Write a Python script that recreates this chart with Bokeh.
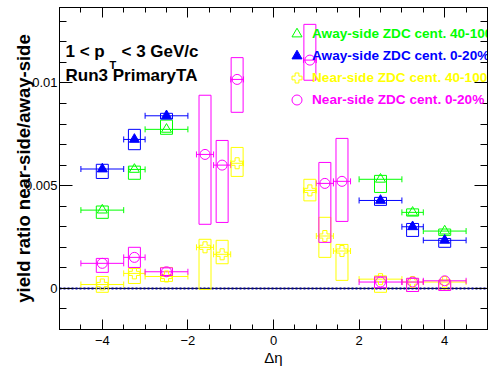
import math
from bokeh.plotting import figure
from bokeh.models import (ColumnDataSource, Whisker, TeeHead, Span, Label, Legend, LegendItem,
                          LinearAxis, SingleIntervalTicker, CustomJSTickFormatter, Range1d,
                          CustomLabelingPolicy)
from bokeh.embed import file_html
from bokeh.resources import INLINE

# ---------------- data ----------------
# Away-side ZDC cent. 40-100 (green, open triangle)
away_per_x = [-4.0, -3.25, -2.5, 2.5, 3.25, 4.0]
away_per_xlo = [-4.5, -3.38, -3.0, 2.0, 3.0, 3.5]
away_per_xhi = [-3.5, -3.0, -2.0, 3.0, 3.5, 4.5]
away_per_y = [0.00381, 0.00579, 0.00774, 0.00531, 0.00370, 0.00279]
away_per_sys_lo = [0.00341, 0.00531, 0.00750, 0.00467, 0.00352, 0.00258]
away_per_sys_hi = [0.00401, 0.00595, 0.00819, 0.00550, 0.00387, 0.00289]

# Away-side ZDC cent. 0-20% (blue, filled triangle)
away_cen_x = [-4.0, -3.25, -2.5, 2.5, 3.25, 4.0]
away_cen_xlo = [-4.5, -3.5, -3.0, 2.0, 3.0, 3.5]
away_cen_xhi = [-3.5, -3.0, -2.0, 3.0, 3.5, 4.5]
away_cen_y = [0.00581, 0.00725, 0.00840, 0.00428, 0.00300, 0.00234]
away_cen_sys_lo = [0.00535, 0.00675, 0.00824, 0.00404, 0.00253, 0.00200]
away_cen_sys_hi = [0.00604, 0.00774, 0.00852, 0.00443, 0.00316, 0.00243]

# Near-side bins
near_x = [-4.0, -3.25, -2.5, -1.6, -1.2, -0.85, 0.85, 1.2, 1.6, 2.5, 3.25, 4.0]
near_xlo = [-4.5, -3.5, -3.0, -1.8, -1.4, -1.0, 0.7, 1.0, 1.4, 2.0, 3.0, 3.5]
near_xhi = [-3.5, -3.0, -2.0, -1.4, -1.0, -0.7, 1.0, 1.4, 1.8, 3.0, 3.5, 4.5]

# Near-side ZDC cent. 40-100% (yellow, open cross)
near_per_y = [0.00019, 0.00073, 0.00058, 0.00200, 0.00166, 0.00609,
              0.00477, 0.00255, 0.00182, 0.00045, 0.00031, 0.00031]
near_per_sys_lo = [-0.00019, 0.00024, 0.00034, -0.00005, 0.00120, 0.00545,
                   0.00426, 0.00151, 0.00039, -0.00019, -0.00015, -0.00008]
near_per_sys_hi = [0.00058, 0.00097, 0.00102, 0.00239, 0.00234, 0.00686,
                   0.00531, 0.00346, 0.00214, 0.00061, 0.00049, 0.00040]

# Near-side ZDC cent. 0-20% (magenta, open circle)
near_cen_y = [0.00122, 0.00151, 0.00081, 0.00652, 0.00600, 0.01017,
              0.01111, 0.00511, 0.00521, 0.00031, 0.00031, 0.00037]
near_cen_sys_lo = [0.00078, 0.00102, 0.00063, 0.00312, 0.00321, 0.00857,
                   0.01013, 0.00224, 0.00326, 0.00003, -0.00015, -0.00010]
near_cen_sys_hi = [0.00146, 0.00200, 0.00100, 0.00940, 0.00720, 0.01123,
                   0.01285, 0.00613, 0.00730, 0.00056, 0.00049, 0.00040]

labels = ["Away-side ZDC cent. 40-100", "Away-side ZDC cent. 0-20%",
          "Near-side ZDC cent. 40-100%", "Near-side ZDC cent. 0-20%"]
x_title = "\u0394\u03b7"
y_title = "yield ratio near-side/away-side"
text1 = ["1 < p", "T", "< 3 GeV/c"]
text2 = "Run3 PrimaryTA"

# ---------------- style ----------------
FONT = "Liberation Sans"
BOX_HW = 0.14
GREEN, BLUE, YELLOW, MAGENTA = "#00ff00", "#0000ff", "#ffff00", "#ff00ff"

p = figure(width=496, height=374, x_range=Range1d(-5, 5), y_range=Range1d(-0.002, 0.01367),
           output_backend="svg", toolbar_location=None,
           min_border_left=59, min_border_right=9, min_border_top=7, min_border_bottom=45)
p.xgrid.visible = False
p.ygrid.visible = False
p.outline_line_color = "black"
p.background_fill_color = "white"
p.border_fill_color = "white"

xt = SingleIntervalTicker(interval=2, num_minor_ticks=4)
yt = SingleIntervalTicker(interval=0.005, num_minor_ticks=5)
yfmt = CustomJSTickFormatter(code="return String(Math.round(tick*1e6)/1e6);")
no_labels = CustomLabelingPolicy(code="for (const i of Array.from(indices)) indices.unset(i); return indices;")

def style_axis(ax, tin, mtin, show):
    ax.major_tick_in = tin
    ax.major_tick_out = 0
    ax.minor_tick_in = mtin
    ax.minor_tick_out = 0
    ax.axis_line_color = "black"
    ax.major_tick_line_color = "black"
    ax.minor_tick_line_color = "black"
    ax.major_label_text_font = FONT
    ax.major_label_text_color = "black"
    if show:
        ax.major_label_text_font_size = "13px"
    else:
        ax.major_label_text_font_size = "1px"
        ax.major_label_standoff = 0
        ax.major_label_policy = no_labels

xa = p.xaxis[0]
xa.ticker = xt
style_axis(xa, 10, 5, True)
xa.major_label_standoff = 6
xa.axis_label = x_title
xa.axis_label_text_font = FONT
xa.axis_label_text_font_style = "normal"
xa.axis_label_text_font_size = "15px"
xa.axis_label_standoff = 1
xa.axis_label_text_color = "black"

ya = p.yaxis[0]
ya.ticker = yt
ya.formatter = yfmt
style_axis(ya, 13, 7, True)
ya.major_label_standoff = 2
ya.axis_label = y_title
ya.axis_label_text_font = FONT
ya.axis_label_text_font_style = "bold"
ya.axis_label_text_font_size = "18.5px"
ya.axis_label_standoff = -12
ya.axis_label_text_color = "black"

top = LinearAxis(ticker=xt)
style_axis(top, 10, 5, False)
p.add_layout(top, "above")
right = LinearAxis(ticker=yt)
style_axis(right, 13, 7, False)
p.add_layout(right, "right")

# zero line
p.add_layout(Span(location=0, dimension="width", line_color="black", line_width=1, level="underlay"))
p.add_layout(Span(location=0, dimension="width", line_color="#0000a0", line_width=2,
                  line_dash="2 2", level="underlay"))

def series(x, xlo, xhi, y, slo, shi, color, marker, fill):
    src = ColumnDataSource(dict(
        x=x, y=y, xlo=xlo, xhi=xhi, slo=slo, shi=shi,
        left=[v - BOX_HW for v in x], right=[v + BOX_HW for v in x]))
    p.quad(left="left", right="right", bottom="slo", top="shi", source=src,
           fill_alpha=0, line_color=color, line_width=1)
    p.add_layout(Whisker(base="y", lower="xlo", upper="xhi", dimension="width", source=src,
                         line_color=color, line_width=1,
                         lower_head=TeeHead(size=6, line_color=color, line_width=1),
                         upper_head=TeeHead(size=6, line_color=color, line_width=1)))
    size = 11 if marker == "plus" else 10
    r = p.scatter("x", "y", source=src, marker=marker, size=size, line_color=color,
                  fill_color=color if fill else None, line_width=1)
    return r

r1 = series(away_per_x, away_per_xlo, away_per_xhi, away_per_y, away_per_sys_lo, away_per_sys_hi,
            GREEN, "triangle", False)
r2 = series(away_cen_x, away_cen_xlo, away_cen_xhi, away_cen_y, away_cen_sys_lo, away_cen_sys_hi,
            BLUE, "triangle", True)
r3 = series(near_x, near_xlo, near_xhi, near_per_y, near_per_sys_lo, near_per_sys_hi,
            YELLOW, "plus", False)
r4 = series(near_x, near_xlo, near_xhi, near_cen_y, near_cen_sys_lo, near_cen_sys_hi,
            MAGENTA, "circle", False)

# legend: one single-item legend per entry so each label keeps its colour
for i, (r, lab, col) in enumerate(zip([r1, r2, r3, r4], labels, [GREEN, BLUE, YELLOW, MAGENTA])):
    lg = Legend(items=[LegendItem(label=lab, renderers=[r])], location=(225, 283 - 22 * i),
                label_text_color=col, label_text_font=FONT, label_text_font_style="bold",
                label_text_font_size="13.6px", border_line_color=None, background_fill_alpha=0,
                padding=0, margin=0, spacing=0, glyph_width=25, glyph_height=25,
                label_standoff=3, label_height=25)
    p.add_layout(lg)

# texts inside the frame
def lbl(text, x, y, size):
    p.add_layout(Label(text=text, x=x, y=y, x_units="screen", y_units="screen",
                       text_font=FONT, text_font_size=size, text_font_style="bold",
                       text_align="left", text_baseline="alphabetic", text_color="black"))

lbl(text1[0], 6, 278, "17px")
lbl(text1[1], 50, 265, "11px")
lbl(text1[2], 62, 278, "17px")
lbl(text2, 6, 254, "17px")

open("out.html", "w").write(file_html(p, INLINE))
